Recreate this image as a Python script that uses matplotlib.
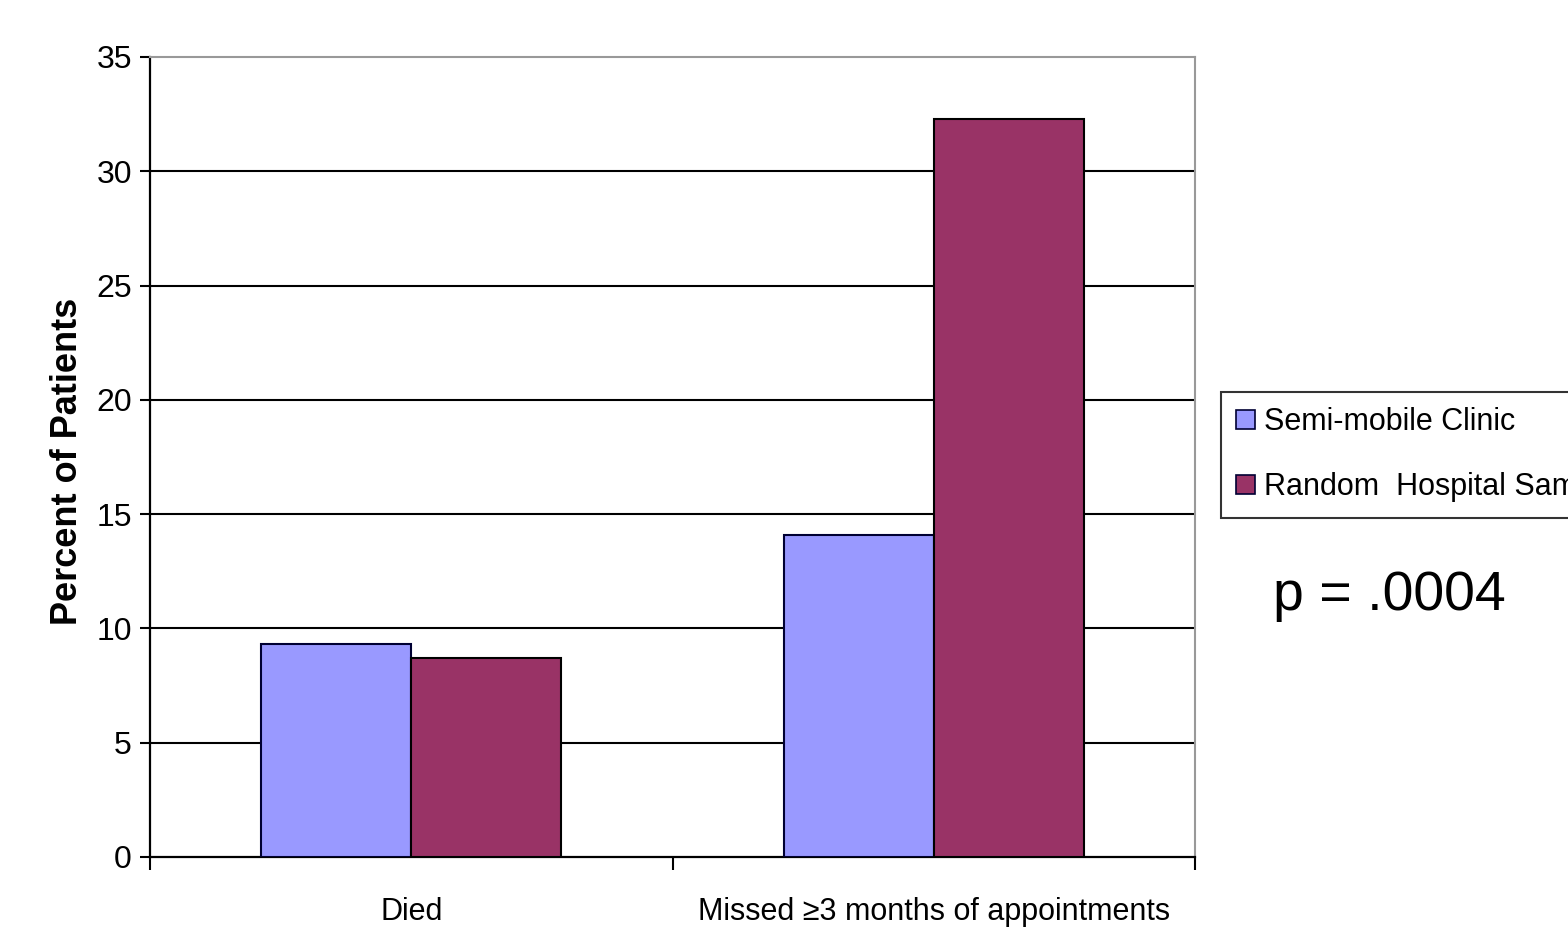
import matplotlib
matplotlib.use("Agg")
import matplotlib.pyplot as plt
import numpy as np
from matplotlib.patches import Patch

categories = ["Died", "Missed \u22653 months of appointments"]
series_names = ["Semi-mobile Clinic", "Random  Hospital Sample"]
semi_mobile = [9.3, 14.1]
random_hospital = [8.7, 32.3]
y_ticks = [0, 5, 10, 15, 20, 25, 30, 35]
p_text = "p = .0004"

colors = ["#9999FF", "#993366"]
sans = ["Liberation Sans", "DejaVu Sans"]

fig = plt.figure(figsize=(15.68, 9.27), dpi=100)
ax = fig.add_axes([150 / 1568, 1 - 857 / 927, 1045 / 1568, 800 / 927])

x = np.arange(len(categories))
w = 0.287
ax.bar(x - w / 2, semi_mobile, w, color=colors[0], edgecolor="#000033", linewidth=1.5, zorder=3)
ax.bar(x + w / 2, random_hospital, w, color=colors[1], edgecolor="#000000", linewidth=1.5, zorder=3)

ax.set_xlim(-0.5, len(categories) - 0.5)
ax.set_ylim(0, 35)

# horizontal gridlines
for v in y_ticks[1:-1]:
    ax.axhline(v, color="black", linewidth=1.5, zorder=1)

ax.spines["top"].set_color("#999999")
ax.spines["right"].set_color("#999999")
ax.spines["top"].set_linewidth(1.5)
ax.spines["right"].set_linewidth(1.5)
ax.spines["left"].set_linewidth(1.6)
ax.spines["bottom"].set_linewidth(1.6)

ax.set_yticks(y_ticks)
ax.set_yticklabels([str(v) for v in y_ticks], family=sans, fontsize=23)
ax.tick_params(axis="y", direction="out", length=7, width=1.5, pad=6)

ax.set_xticks(x)
ax.set_xticklabels(categories, family=sans, fontsize=22)
ax.tick_params(axis="x", which="major", length=0, pad=29)
ax.set_xticks(np.arange(len(categories) + 1) - 0.5, minor=True)
ax.tick_params(axis="x", which="minor", direction="out", length=9, width=1.5)

ax.set_ylabel("Percent of Patients", fontsize=26, fontweight="bold", family=sans)
ax.yaxis.set_label_coords(-0.062, 0.494)

handles = [Patch(facecolor=c, edgecolor="#000033", linewidth=1.2) for c in colors]
leg = fig.legend(handles, series_names, loc="upper left",
                 bbox_to_anchor=(1221 / 1568, 1 - 392 / 927),
                 prop={"family": sans, "size": 22},
                 frameon=True, fancybox=False, handlelength=0.6, handleheight=0.6,
                 handletextpad=0.3, borderpad=0.5, labelspacing=1.15, borderaxespad=0)
leg.get_frame().set_edgecolor("black")
leg.get_frame().set_linewidth(1.5)

fig.text(1273 / 1568, 1 - 596 / 927, p_text, fontsize=40, va="center", ha="left",
         family=sans)

fig.savefig("out.png", dpi=100)
